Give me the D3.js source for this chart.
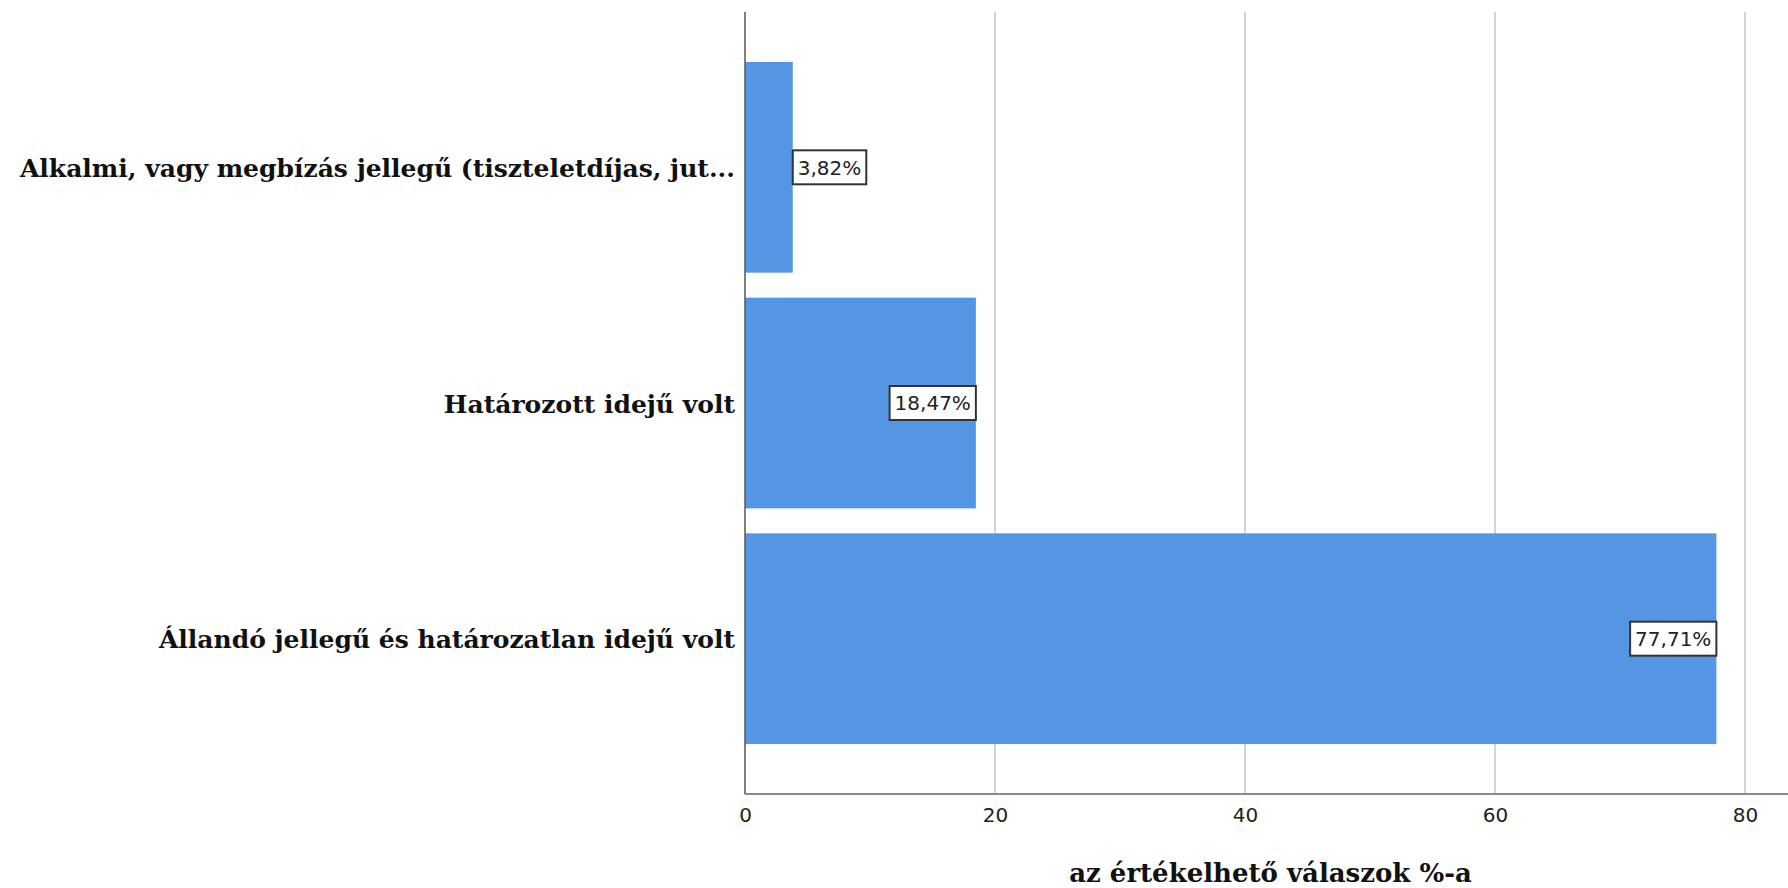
<!DOCTYPE html>
<html>
<head>
<meta charset="utf-8">
<script src="https://cdn.jsdelivr.net/npm/d3@7"></script>
<style>
  html, body { margin: 0; padding: 0; background: #fff; }
  svg { display: block; }
</style>
</head>
<body>
<svg id="chart" width="1788" height="888"></svg>
<script>
const categories = [
  "Alkalmi, vagy megbízás jellegű (tiszteletdíjas, jut...",
  "Határozott idejű volt",
  "Állandó jellegű és határozatlan idejű volt"
];
const values = [3.82, 18.47, 77.71];
const valueLabels = ["3,82%", "18,47%", "77,71%"];
const ticks = [0, 20, 40, 60, 80];
const axisTitle = "az értékelhető válaszok %-a";

(function () {
const svg = d3.select("#chart");
const W = 1788;
const plotLeft = 745, plotTop = 12, plotBottom = 794;

const x = d3.scaleLinear().domain([0, 80]).range([plotLeft, 1745]);
const y = d3.scaleBand().domain(categories).range([plotTop, plotBottom])
  .paddingInner(0.106).paddingOuter(0.212);

// gridlines
svg.append("g").selectAll("line").data(ticks.filter(t => t > 0)).join("line")
  .attr("x1", d => x(d)).attr("x2", d => x(d))
  .attr("y1", plotTop).attr("y2", plotBottom)
  .attr("stroke", "#d4d4d4").attr("stroke-width", 2);

// bars
svg.append("g").selectAll("rect").data(values).join("rect")
  .attr("x", x(0))
  .attr("y", (d, i) => y(categories[i]))
  .attr("width", d => x(d) - x(0))
  .attr("height", y.bandwidth())
  .attr("fill", "#5596e4");

// axes lines
svg.append("line").attr("x1", plotLeft).attr("x2", W).attr("y1", plotBottom).attr("y2", plotBottom)
  .attr("stroke", "#8a8a8a").attr("stroke-width", 2);
svg.append("line").attr("x1", plotLeft).attr("x2", plotLeft).attr("y1", plotTop).attr("y2", plotBottom)
  .attr("stroke", "#555").attr("stroke-width", 1.5);

// x axis tick labels
const xAxis = d3.axisBottom(x).tickValues(ticks).tickSize(0).tickPadding(14).tickFormat(d3.format("d"));
const gx = svg.append("g").attr("transform", `translate(0,${plotBottom})`).call(xAxis);
gx.select(".domain").remove();
gx.selectAll("text").attr("font-family", "DejaVu Sans").attr("font-size", 20).attr("fill", "#222");

// category labels
svg.append("g").selectAll("text").data(categories).join("text")
  .attr("x", 735)
  .attr("y", d => y(d) + y.bandwidth() / 2)
  .attr("dy", "0.38em")
  .attr("text-anchor", "end")
  .attr("font-family", "DejaVu Serif")
  .attr("font-weight", "bold")
  .attr("font-size", 25)
  .attr("fill", "#111")
  .text(d => d);

// value labels with boxes
const lg = svg.append("g");
values.forEach((v, i) => {
  const cy = y(categories[i]) + y.bandwidth() / 2;
  const g = lg.append("g");
  const t = g.append("text")
    .attr("font-family", "DejaVu Sans").attr("font-size", 20).attr("fill", "#222")
    .attr("y", cy).attr("dy", "0.36em")
    .text(valueLabels[i]);
  const tw = t.node().getComputedTextLength();
  const bw = tw + 10, bh = 34;
  const inside = (x(v) - x(0)) > bw + 4;
  const bx = inside ? x(v) - bw : x(v);
  t.attr("x", bx + 5);
  g.insert("rect", "text")
    .attr("x", bx).attr("y", cy - bh / 2)
    .attr("width", bw).attr("height", bh)
    .attr("fill", "#fff").attr("stroke", "#333").attr("stroke-width", 2);
});

// axis title
svg.append("text")
  .attr("x", (1068 + 1473) / 2).attr("y", 882)
  .attr("text-anchor", "middle")
  .attr("font-family", "DejaVu Serif").attr("font-weight", "bold").attr("font-size", 26)
  .attr("fill", "#111")
  .text(axisTitle);
})();
</script>
</body>
</html>
